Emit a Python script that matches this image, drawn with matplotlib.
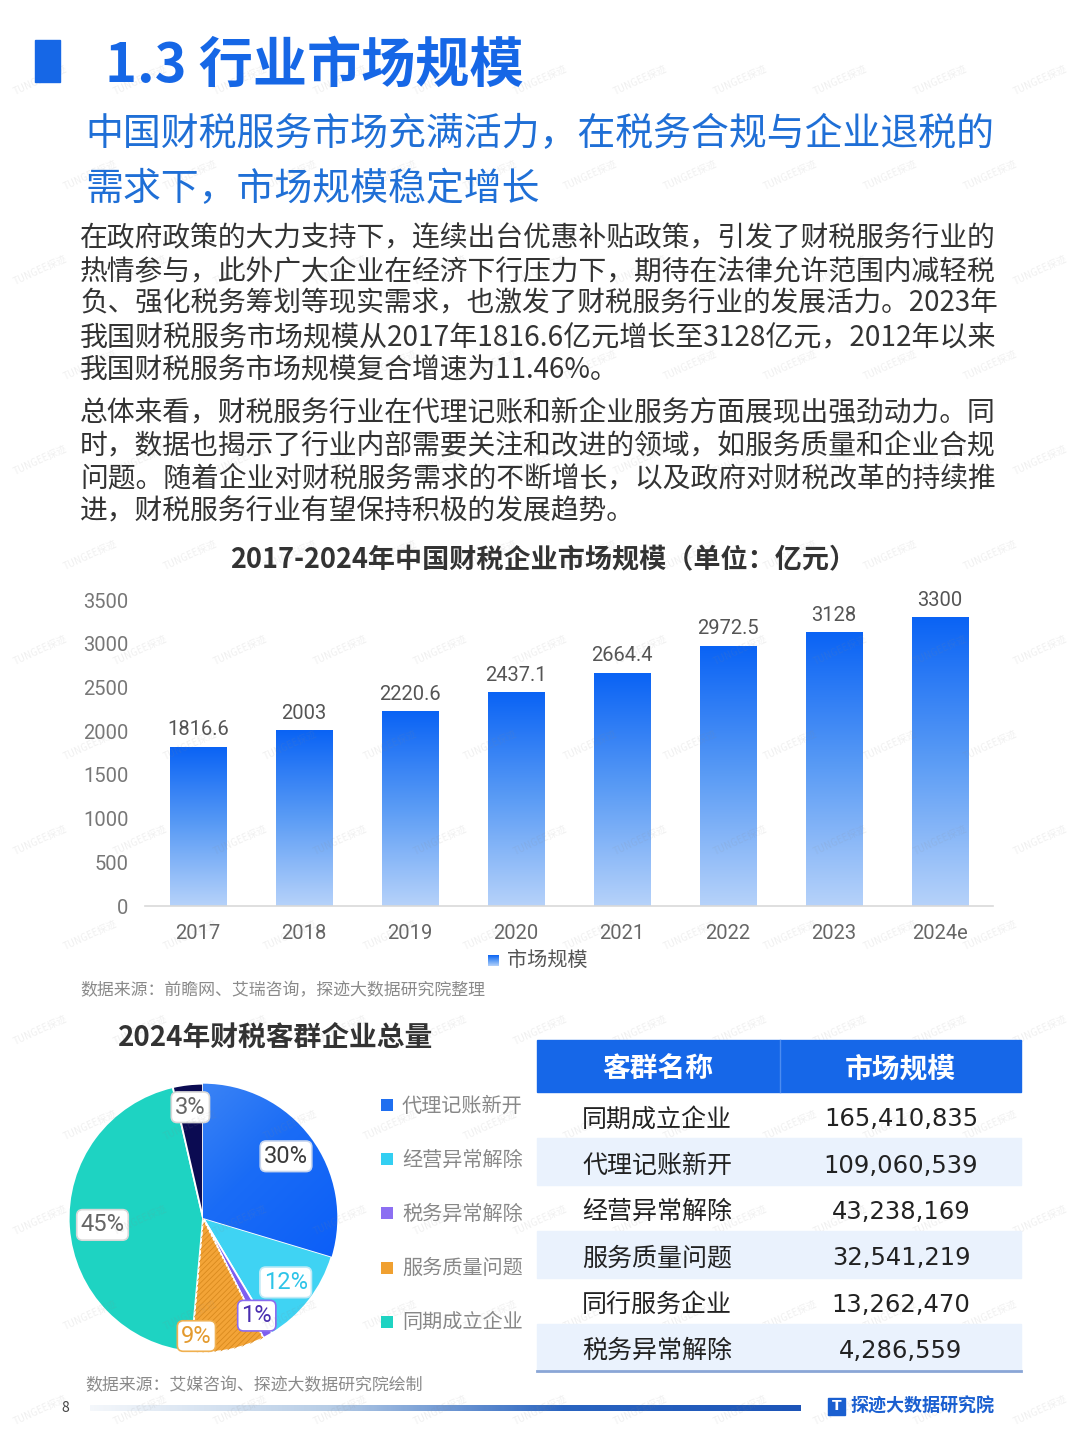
import numpy as np
import matplotlib
matplotlib.use('Agg')
import matplotlib.pyplot as plt
from matplotlib.patches import Rectangle, Wedge
from matplotlib.colors import LinearSegmentedColormap

plt.rcParams['font.family'] = ['Noto Sans CJK SC', 'DejaVu Sans']
plt.rcParams['hatch.linewidth'] = 0.6

# ---- data ----
years = ['2017', '2018', '2019', '2020', '2021', '2022', '2023', '2024e']
market_size = [1816.6, 2003, 2220.6, 2437.1, 2664.4, 2972.5, 3128, 3300]
bar_labels = ['1816.6', '2003', '2220.6', '2437.1', '2664.4', '2972.5', '3128', '3300']
y_ticks = [0, 500, 1000, 1500, 2000, 2500, 3000, 3500]

pie_names = ['代理记账新开', '经营异常解除', '税务异常解除', '服务质量问题', '同期成立企业', '同行服务企业']
pie_values = [109060539, 43238169, 4286559, 32541219, 165410835, 13262470]
pie_pct = ['30%', '12%', '1%', '9%', '45%', '3%']
legend_names = ['代理记账新开', '经营异常解除', '税务异常解除', '服务质量问题', '同期成立企业']

table_names = ['同期成立企业', '代理记账新开', '经营异常解除', '服务质量问题', '同行服务企业', '税务异常解除']
table_values = [165410835, 109060539, 43238169, 32541219, 13262470, 4286559]

title = '1.3 行业市场规模'
subtitle = ['中国财税服务市场充满活力，在税务合规与企业退税的', '需求下，市场规模稳定增长']
para1 = ['在政府政策的大力支持下，连续出台优惠补贴政策，引发了财税服务行业的',
         '热情参与，此外广大企业在经济下行压力下，期待在法律允许范围内减轻税',
         '负、强化税务筹划等现实需求，也激发了财税服务行业的发展活力。2023年',
         '我国财税服务市场规模从2017年1816.6亿元增长至3128亿元，2012年以来',
         '我国财税服务市场规模复合增速为11.46%。']
para2 = ['总体来看，财税服务行业在代理记账和新企业服务方面展现出强劲动力。同',
         '时，数据也揭示了行业内部需要关注和改进的领域，如服务质量和企业合规',
         '问题。随着企业对财税服务需求的不断增长，以及政府对财税改革的持续推',
         '进，财税服务行业有望保持积极的发展趋势。']

W, H = 1080, 1443
fig = plt.figure(figsize=(10.8, 14.43), dpi=100)
fig.patch.set_facecolor('white')


def X(px):
    return px / W


def Y(py):
    return 1 - py / H


# faint watermarks
for wy in range(80, 1443, 95):
    off = (wy // 95) % 2 * 50
    for wx in range(40 + off, 1080, 100):
        fig.text(X(wx), Y(wy), 'TUNGEE探迹', fontsize=7, color='#888888', alpha=0.13,
                 rotation=25, ha='center', va='center', zorder=0)

# ---- header ----
fig.patches.append(Rectangle((X(35), Y(82)), X(25), 42 / H, transform=fig.transFigure,
                             color='#1667e6', zorder=3))
fig.text(X(105), Y(66), title, fontsize=39, fontweight='bold', color='#1667e6',
         va='center', ha='left')
for i, line in enumerate(subtitle):
    fig.text(X(85), Y(135 + 55 * i), line, fontsize=27.3, color='#1f6fd6',
             va='center', ha='left')

renderer = fig.canvas.get_renderer()


def justified(lines, y0, last_free=True):
    for i, line in enumerate(lines):
        t = fig.text(X(80), Y(y0 + 33 * i), line, fontsize=20, color='#333333',
                     va='center', ha='left')
        if last_free and i == len(lines) - 1:
            continue
        w = t.get_window_extent(renderer).width
        scale = min(max(917 / w, 0.93), 1.07)
        t.set_fontsize(20 * scale)


justified(para1, 238)
justified(para2, 412)

# ---- bar chart ----
fig.text(X(543), Y(560), '2017-2024年中国财税企业市场规模（单位：亿元）', fontsize=19.5,
         fontweight='bold', color='#333333', ha='center', va='center')

ax = fig.add_axes([X(145), Y(906), 848 / W, 306 / H])
bar_cmap = LinearSegmentedColormap.from_list('bar', ['#b6d2fa', '#5b9cf5', '#0a63f4'])
grad = np.linspace(1, 0, 256).reshape(-1, 1)
bw = 0.265
for i, v in enumerate(market_size):
    ax.imshow(grad, extent=[i - bw, i + bw, 0, v], aspect='auto', cmap=bar_cmap,
              zorder=2, interpolation='bilinear')
    ax.text(i, v + 90, bar_labels[i], ha='center', va='bottom', fontsize=14.5,
            family='Roboto', color='#555555')
ax.set_xlim(-0.5, len(years) - 0.5)
ax.set_ylim(0, 3500)
ax.set_xticks(range(len(years)))
ax.set_xticklabels(years, fontsize=14.5, family='Roboto', color='#666666')
ax.set_yticks(y_ticks)
ax.set_yticklabels([str(t) for t in y_ticks], fontsize=14.5, family='Roboto', color='#777777')
ax.tick_params(axis='both', length=0)
ax.tick_params(axis='y', pad=12)
ax.tick_params(axis='x', pad=13)
for s in ['top', 'right', 'left']:
    ax.spines[s].set_visible(False)
ax.spines['bottom'].set_color('#d9d9d9')
ax.spines['bottom'].set_linewidth(1.2)
ax.set_facecolor('none')

# legend of bar chart
lg = fig.add_axes([X(488), Y(966), 11 / W, 11 / H])
lg.imshow(grad, aspect='auto', cmap=bar_cmap)
lg.axis('off')
fig.text(X(507), Y(960), '市场规模', fontsize=14.5, color='#555555', va='center', ha='left')

fig.text(X(80), Y(990), '数据来源：前瞻网、艾瑞咨询，探迹大数据研究院整理', fontsize=12.2,
         color='#8a8a8a', style='italic', va='center', ha='left')

# ---- pie chart ----
fig.text(X(118), Y(1038), '2024年财税客群企业总量', fontsize=20, fontweight='bold',
         color='#333333', va='center', ha='left')

cx, cy, r = 203, 1218, 137
pax = fig.add_axes([X(cx - r), Y(cy + r), 2 * r / W, 2 * r / H])
pie_colors = ['#2b7df2', '#3fd3f3', '#7e5ff0', '#f3a437', '#1ed3c2', '#0b0b52']
wedges, _ = pax.pie(pie_values, colors=pie_colors, startangle=90, counterclock=False,
                    radius=1, wedgeprops=dict(edgecolor='white', linewidth=1.3))
pax.set_xlim(-1.02, 1.02)
pax.set_ylim(-1.02, 1.02)
pax.set_aspect('auto')
pax.axis('off')

# gradient fill on first wedge
pie_cmap = LinearSegmentedColormap.from_list('pb', ['#5b9af5', '#1a6cf6', '#0457f8'])
g2 = np.add.outer(np.linspace(0, 1, 200), np.linspace(0, 1, 200)) / 2
im = pax.imshow(g2, extent=[-1, 1, -1, 1], cmap=pie_cmap, zorder=1.5, origin='upper')
im.set_clip_path(wedges[0])
wedges[0].set_zorder(1)

# hatch on orange wedge
hw = wedges[3]
hatch_w = Wedge(hw.center, hw.r, hw.theta1, hw.theta2, facecolor='none',
                edgecolor='#d98a1e', hatch='//////', linewidth=0, zorder=2)
pax.add_patch(hatch_w)

label_r = [0.77, 0.78, 0.83, 0.88, 0.75, 0.83]
label_off = [0, 0, 0, -14, 0, 0]
label_tc = ['#3a3a3a', '#2ec4e8', '#4a2fb0', '#e39a2e', '#666666', '#666666']
label_ec = ['#c8d6ee', '#bfeaf6', '#8a6cf0', '#f0b050', '#d8d8d8', '#d8d8d8']
for i, w in enumerate(wedges):
    ang = np.deg2rad((w.theta1 + w.theta2) / 2 + label_off[i])
    lx, ly = label_r[i] * np.cos(ang), label_r[i] * np.sin(ang)
    pax.text(lx, ly, pie_pct[i], ha='center', va='center', fontsize=17,
             family='Roboto', color=label_tc[i], zorder=5,
             bbox=dict(boxstyle='round,pad=0.16,rounding_size=0.25', fc='white',
                       ec=label_ec[i], lw=1.2))

legend_colors = ['#1f6ff0', '#33cff2', '#8c6ff2', '#f0a030', '#1ed3c2']
for i, name in enumerate(legend_names):
    yy = 1105 + 54.2 * i
    sq = Rectangle((X(381), Y(yy + 6)), 12 / W, 12 / H, transform=fig.transFigure,
                   facecolor=legend_colors[i], edgecolor='none',
                   hatch='////' if i == 3 else None)
    fig.patches.append(sq)
    fig.text(X(402), Y(yy + 1), name, fontsize=14.5, color='#888888', va='center', ha='left')

fig.text(X(85), Y(1385), '数据来源：艾媒咨询、探迹大数据研究院绘制', fontsize=12.2,
         color='#8a8a8a', style='italic', va='center', ha='left')

# ---- table ----
tx0, tx1, tmid = 537, 1021, 780
fig.patches.append(Rectangle((X(tx0), Y(1092)), (tx1 - tx0) / W, 52 / H,
                             transform=fig.transFigure, color='#1667e8', zorder=2))
fig.lines.append(plt.Line2D([X(tmid), X(tmid)], [Y(1092), Y(1040)], transform=fig.transFigure,
                            color='#4d8cf0', lw=1, zorder=3))
fig.text(X(658), Y(1069), '客群名称', fontsize=20, fontweight='bold', color='white',
         ha='center', va='center', zorder=4)
fig.text(X(900), Y(1069), '市场规模', fontsize=20, fontweight='bold', color='white',
         ha='center', va='center', zorder=4)
row_h = 46.4
for i, (name, val) in enumerate(zip(table_names, table_values)):
    top = 1092 + row_h * i
    if i % 2 == 1:
        fig.patches.append(Rectangle((X(tx0), Y(top + row_h)), (tx1 - tx0) / W, row_h / H,
                                     transform=fig.transFigure, color='#eaf2fd', zorder=1))
    yc = top + row_h / 2 + 4
    fig.text(X(582), Y(yc), name, fontsize=18, color='#222222', ha='left', va='center')
    fig.text(X(901), Y(yc), f'{val:,}', fontsize=17.5, color='#222222', ha='center',
             va='center', family='DejaVu Sans')
fig.lines.append(plt.Line2D([X(tx0), X(tx1)], [Y(1371), Y(1371)], transform=fig.transFigure,
                            color='#8aa6d6', lw=2))

# ---- footer ----
fig.text(X(65), Y(1408), '8', fontsize=10, color='#444444', ha='center', va='center')
fax = fig.add_axes([X(90), Y(1411), 710 / W, 6 / H])
line_cmap = LinearSegmentedColormap.from_list('ln', ['#f4f7fb', '#b7cde6', '#2a64c0', '#1d55b8'])
fax.imshow(np.linspace(0, 1, 300).reshape(1, -1), aspect='auto', cmap=line_cmap)
fax.axis('off')
fig.patches.append(Rectangle((X(828), Y(1415)), 17 / W, 17 / H, transform=fig.transFigure,
                             color='#1a5fd0'))
fig.text(X(836.5), Y(1406.5), 'T', fontsize=10, fontweight='bold', color='white',
         ha='center', va='center', family='DejaVu Sans')
fig.text(X(850), Y(1406), '探迹大数据研究院', fontsize=13, fontweight='bold', color='#1a5fd0',
         ha='left', va='center')

fig.savefig('out.png', dpi=100)
